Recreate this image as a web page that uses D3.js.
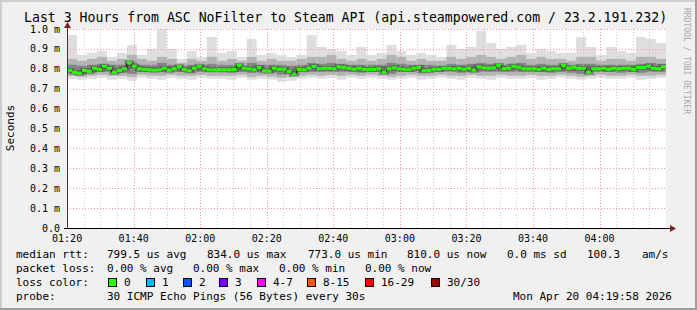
<!DOCTYPE html>
<html>
<head>
<meta charset="utf-8">
<script src="https://cdn.jsdelivr.net/npm/d3@7"></script>
<style>
  body { margin: 0; background: #f0f0f0; }
  svg { display: block; font-family: "DejaVu Sans Mono", monospace; }
</style>
</head>
<body>
<div class="chart"></div>
<script>
const width = 697, height = 310;

// median rtt in ms, one value every 90 s starting 01:19:58
const median = [
  0.792,0.783,0.778,0.792,0.787,0.803,0.797,0.813,0.803,0.783,
  0.792,0.800,0.830,0.813,0.800,0.797,0.795,0.793,0.795,0.803,
  0.793,0.800,0.810,0.797,0.790,0.803,0.813,0.800,0.795,0.795,
  0.795,0.795,0.795,0.797,0.817,0.803,0.800,0.795,0.807,0.790,
  0.788,0.803,0.798,0.798,0.787,0.772,0.797,0.795,0.803,0.812,
  0.800,0.803,0.803,0.800,0.810,0.807,0.803,0.798,0.803,0.797,
  0.797,0.797,0.800,0.783,0.800,0.805,0.800,0.797,0.797,0.803,
  0.807,0.790,0.792,0.798,0.797,0.803,0.803,0.800,0.803,0.798,
  0.803,0.793,0.810,0.805,0.803,0.805,0.817,0.800,0.803,0.813,
  0.808,0.800,0.800,0.800,0.797,0.803,0.797,0.800,0.800,0.817,
  0.803,0.808,0.803,0.803,0.783,0.800,0.800,0.803,0.798,0.803,
  0.800,0.803,0.803,0.797,0.807,0.807,0.813,0.803,0.800,0.810
];

// smoke (ping distribution) per 3 min column, ms
const pingMax = [
  0.97,0.87,0.88,0.89,0.86, 0.88,0.92,0.87,0.90,1.00,
  0.90,0.85,0.89,0.86,0.96, 0.88,0.89,0.86,0.95,0.87,
  0.88,0.87,0.86,0.87,0.97, 0.91,0.90,0.89,0.87,0.91,
  0.87,0.88,0.92,0.89,0.87, 0.88,0.87,0.86,0.92,0.90,
  0.91,0.99,0.93,0.90,0.91, 0.92,0.88,0.90,0.89,0.88,
  0.88,0.96,0.91,0.87,0.91, 0.89,0.88,0.96,0.95,0.93
];
const ping90 = [
  0.85,0.84,0.85,0.86,0.84, 0.85,0.87,0.85,0.84,0.86,
  0.85,0.83,0.85,0.84,0.86, 0.84,0.85,0.84,0.86,0.84,
  0.85,0.84,0.84,0.85,0.86, 0.86,0.87,0.85,0.84,0.85,
  0.84,0.85,0.87,0.86,0.84, 0.85,0.84,0.84,0.86,0.85,
  0.86,0.87,0.86,0.85,0.86, 0.87,0.85,0.86,0.85,0.85,
  0.84,0.86,0.86,0.84,0.85, 0.85,0.84,0.86,0.86,0.85
];
const ping75 = [
  0.820,0.815,0.820,0.825,0.820, 0.820,0.835,0.820,0.820,0.830,
  0.820,0.815,0.820,0.820,0.825, 0.820,0.820,0.815,0.830,0.820,
  0.820,0.820,0.815,0.820,0.830, 0.825,0.830,0.825,0.820,0.820,
  0.820,0.820,0.830,0.825,0.820, 0.820,0.820,0.815,0.825,0.820,
  0.825,0.830,0.825,0.820,0.825, 0.830,0.820,0.825,0.820,0.820,
  0.815,0.825,0.825,0.820,0.820, 0.820,0.820,0.825,0.830,0.825
];
const ping25 = [
  0.780,0.770,0.780,0.785,0.785, 0.780,0.775,0.785,0.785,0.785,
  0.785,0.785,0.780,0.785,0.785, 0.785,0.780,0.785,0.780,0.785,
  0.780,0.770,0.775,0.785,0.785, 0.785,0.785,0.785,0.785,0.780,
  0.785,0.785,0.775,0.785,0.785, 0.780,0.785,0.785,0.785,0.780,
  0.785,0.785,0.785,0.785,0.785, 0.785,0.785,0.785,0.780,0.785,
  0.780,0.775,0.785,0.785,0.785, 0.780,0.785,0.780,0.785,0.785
];
const ping10 = [
  0.765,0.760,0.765,0.770,0.765, 0.765,0.760,0.770,0.765,0.765,
  0.770,0.765,0.765,0.770,0.765, 0.765,0.765,0.770,0.760,0.765,
  0.760,0.755,0.760,0.765,0.770, 0.765,0.770,0.765,0.770,0.765,
  0.770,0.765,0.760,0.765,0.770, 0.765,0.765,0.770,0.765,0.765,
  0.770,0.765,0.765,0.770,0.765, 0.765,0.770,0.765,0.765,0.770,
  0.765,0.760,0.765,0.770,0.765, 0.765,0.770,0.765,0.765,0.770
];
const pingMin = [
  0.750,0.745,0.750,0.755,0.745, 0.750,0.740,0.755,0.750,0.745,
  0.755,0.750,0.745,0.755,0.750, 0.750,0.745,0.755,0.745,0.750,
  0.745,0.735,0.740,0.750,0.755, 0.750,0.755,0.745,0.755,0.750,
  0.755,0.750,0.745,0.750,0.755, 0.745,0.750,0.755,0.750,0.745,
  0.755,0.750,0.745,0.755,0.750, 0.750,0.755,0.745,0.750,0.755,
  0.750,0.745,0.750,0.755,0.750, 0.750,0.755,0.745,0.750,0.755
];

const yTicks = [0, 0.1, 0.2, 0.3, 0.4, 0.5, 0.6, 0.7, 0.8, 0.9, 1.0];
const xTickLabels = ["01:20","01:40","02:00","02:20","02:40","03:00","03:20","03:40","04:00"];

const lossLabels = ["0","1","2","3","4-7","8-15","16-29","30/30"];
const lossColors = ["#26ff00","#00b8ff","#0059ff","#7e00ff","#ff00ff","#ff5500","#ff0000","#a10000"];

const tStart = new Date(2026, 3, 20, 1, 19, 58);
const tEnd = new Date(2026, 3, 20, 4, 19, 58);
const sec = s => new Date(tStart.getTime() + s * 1000);

const x = d3.scaleTime().domain([tStart, tEnd]).range([67, 666]);
const y = d3.scaleLinear().domain([0, 1.0]).range([228, 29]);

const svg = d3.select(".chart").append("svg")
    .attr("width", width)
    .attr("height", height);

// background + 3d border like rrdtool
svg.append("rect").attr("width", width).attr("height", height).attr("fill", "#f0f0f0");
svg.append("path").attr("d", `M0,${height} V0 H${width}`).attr("stroke", "#cfcfcf").attr("stroke-width", 4).attr("fill", "none");
svg.append("path").attr("d", `M0,${height} H${width} V0`).attr("stroke", "#9e9e9e").attr("stroke-width", 4).attr("fill", "none");

// canvas
svg.append("rect")
    .attr("x", 67).attr("y", 29)
    .attr("width", 666 - 67).attr("height", 228 - 29)
    .attr("fill", "#ffffff");

// smoke
const colStart = j => sec(j * 180);
const colEnd = j => sec((j + 1) * 180);
const bands = [
  {hi: pingMax, lo: pingMin, color: "#dedede"},
  {hi: ping90, lo: ping10, color: "#b4b4b4"},
  {hi: ping75, lo: ping25, color: "#858585"}
];
const smoke = svg.append("g");
bands.forEach(b => {
  smoke.selectAll(null)
    .data(b.hi)
    .join("rect")
      .attr("x", (d, j) => x(colStart(j)))
      .attr("width", (d, j) => x(colEnd(j)) - x(colStart(j)))
      .attr("y", d => y(d))
      .attr("height", (d, j) => y(b.lo[j]) - y(d))
      .attr("fill", b.color);
});

// grid
const grid = svg.append("g");
const minorTimes = d3.range(0, 37).map(k => new Date(2026, 3, 20, 1, 20 + k * 5));
grid.selectAll(".minor")
  .data(minorTimes.filter(t => t.getMinutes() % 20 !== 0 && t <= tEnd))
  .join("line")
    .attr("x1", d => Math.round(x(d)) + 0.5).attr("x2", d => Math.round(x(d)) + 0.5)
    .attr("y1", 29).attr("y2", 228)
    .attr("stroke", "#bfbfbf").attr("stroke-dasharray", "1,2").attr("stroke-opacity", 0.8);

const majorTimes = xTickLabels.map(s => new Date(2026, 3, 20, +s.slice(0, 2), +s.slice(3)));
grid.selectAll(".major")
  .data(majorTimes)
  .join("line")
    .attr("x1", d => Math.round(x(d)) + 0.5).attr("x2", d => Math.round(x(d)) + 0.5)
    .attr("y1", 29).attr("y2", 228)
    .attr("stroke", "#ee9a9a").attr("stroke-dasharray", "1,2");

grid.selectAll(".hgrid")
  .data(yTicks.slice(1))
  .join("line")
    .attr("x1", 67).attr("x2", 666)
    .attr("y1", d => Math.round(y(d)) + 0.5).attr("y2", d => Math.round(y(d)) + 0.5)
    .attr("stroke", "#ee9a9a").attr("stroke-dasharray", "1,2");

// median
const medPts = median.map((v, i) => ({t: sec(i * 90), v}));
const stepLine = d3.line().x(d => x(d.t)).y(d => y(d.v)).curve(d3.curveStepAfter);
const medExt = medPts.concat([{t: sec(median.length * 90), v: median[median.length - 1]}]);
svg.append("path")
    .attr("d", stepLine(medExt))
    .attr("fill", "none").attr("stroke", "#333").attr("stroke-width", 5).attr("stroke-opacity", 0.4);
svg.append("path")
    .attr("d", stepLine(medExt))
    .attr("fill", "none").attr("stroke", "#000").attr("stroke-width", 1);
svg.append("g").selectAll("line")
  .data(medPts)
  .join("line")
    .attr("x1", d => x(d.t))
    .attr("x2", (d, i) => x(sec((i + 1) * 90)))
    .attr("y1", d => y(d.v)).attr("y2", d => y(d.v))
    .attr("stroke", lossColors[0]).attr("stroke-width", 3);

// axes
svg.append("line").attr("x1", 67.5).attr("x2", 67.5).attr("y1", 228).attr("y2", 25)
    .attr("stroke", "#5a2a2a");
svg.append("path").attr("d", "M64,28 L67.5,22 L71,28 Z").attr("fill", "#8b1a1a");
svg.append("line").attr("x1", 64).attr("x2", 672).attr("y1", 228.5).attr("y2", 228.5)
    .attr("stroke", "#000");
svg.append("path").attr("d", "M670,225 L676,228.5 L670,232 Z").attr("fill", "#8b1a1a");

// y tick labels
svg.append("g").selectAll("text")
  .data(yTicks)
  .join("text")
    .attr("x", 60)
    .attr("y", d => y(d) + 3.5)
    .attr("text-anchor", "end")
    .attr("font-size", 10)
    .attr("fill", "#000")
    .text(d => d === 0 ? "0.0" : d3.format(".1f")(d) + " m");

// x tick labels
svg.append("g").selectAll("text")
  .data(majorTimes)
  .join("text")
    .attr("x", d => x(d))
    .attr("y", 242)
    .attr("text-anchor", "middle")
    .attr("font-size", 10)
    .text((d, i) => xTickLabels[i]);

// title
svg.append("text")
    .attr("x", 24).attr("y", 21.5)
    .attr("font-size", 13.2)
    .text("Last 3 Hours from ASC NoFilter to Steam API (api.steampowered.com / 23.2.191.232)");

// vertical label
svg.append("text")
    .attr("transform", "translate(14,128) rotate(-90)")
    .attr("text-anchor", "middle")
    .attr("font-size", 11)
    .text("Seconds");

svg.append("text")
    .attr("transform", "translate(684,8) rotate(90)")
    .attr("font-size", 8)
    .attr("fill", "#a8a8a8")
    .text("RRDTOOL / TOBI OETIKER");

// legend
const legend = svg.append("g").attr("font-size", 11).attr("fill", "#000");
const rows = [
  {y: 258, items: [[16, "median rtt:"], [107, "799.5 us avg"], [207, "834.0 us max"], [308, "773.0 us min"],
                   [407, "810.0 us now"], [507, "0.0 ms sd"], [587, "100.3"], [642, "am/s"]]},
  {y: 272, items: [[16, "packet loss:"], [107, "0.00 % avg"], [193, "0.00 % max"], [279, "0.00 % min"], [365, "0.00 % now"]]},
  {y: 286, items: [[16, "loss color:"]]},
  {y: 300, items: [[16, "probe:"], [107, "30 ICMP Echo Pings (56 Bytes) every 30s"], [513, "Mon Apr 20 04:19:58 2026"]]}
];
rows.forEach(r => {
  r.items.forEach(([px, s]) => {
    legend.append("text").attr("x", px).attr("y", r.y).attr("xml:space", "preserve").text(s);
  });
});

const boxX = [108, 146, 183, 219, 257, 307, 365, 431];
const lc = legend.selectAll(".lc")
  .data(lossLabels)
  .join("g");
lc.append("rect")
    .attr("x", (d, i) => boxX[i] + 0.5).attr("y", 278.5)
    .attr("width", 8).attr("height", 8)
    .attr("fill", (d, i) => lossColors[i])
    .attr("stroke", "#000");
lc.append("text")
    .attr("x", (d, i) => boxX[i] + 16).attr("y", 286)
    .text(d => d);
</script>
</body>
</html>
